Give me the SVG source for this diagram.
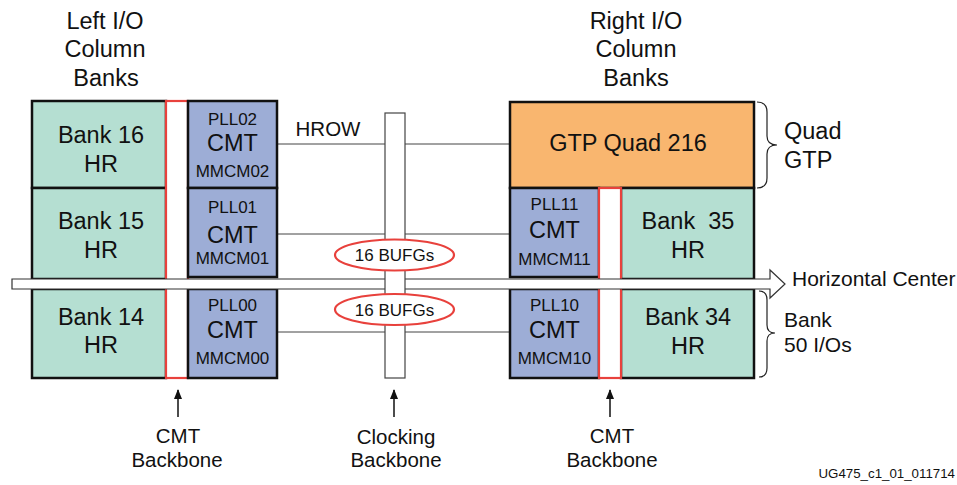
<svg xmlns="http://www.w3.org/2000/svg" width="957" height="485" viewBox="0 0 957 485">
<defs>
<style>
text{font-family:"Liberation Sans",Arial,sans-serif;fill:#111;text-anchor:middle}
.big{font-size:23.5px}
.sm{font-size:17px}
.lab{font-size:20.5px}
.bank{fill:#b5dfd2;stroke:#111;stroke-width:2.5}
.cmt{fill:#9dadd6;stroke:#111;stroke-width:2.5}
.gtp{fill:#f9b66f;stroke:#111;stroke-width:2.5}
.bb{fill:#fff;stroke:#e8413c;stroke-width:2.2}
.wire{stroke:#444;stroke-width:1;fill:none}
.brace{stroke:#222;stroke-width:1.2;fill:none}
</style>
<marker id="ah" markerWidth="10" markerHeight="10" refX="9" refY="4" orient="auto" markerUnits="userSpaceOnUse">
<path d="M0,0 L10,4 L0,8 Z" fill="#111"/>
</marker>
</defs>
<rect width="957" height="485" fill="#fff"/>

<g id="title-left">
<text class="big" x="105" y="29">Left I/O</text>
<text class="big" x="105" y="57">Column</text>
<text class="big" x="106" y="86">Banks</text>
</g>
<g id="title-right">
<text class="big" x="636" y="29">Right I/O</text>
<text class="big" x="636" y="57">Column</text>
<text class="big" x="636" y="86">Banks</text>
</g>

<g id="connectors">
<line class="wire" x1="277" y1="144" x2="510" y2="144"/>
<line class="wire" x1="277" y1="234" x2="510" y2="234"/>
<line class="wire" x1="277" y1="332" x2="510" y2="332"/>
<line x1="178" y1="417" x2="178" y2="390" stroke="#111" stroke-width="1.5" marker-end="url(#ah)"/>
<line x1="394" y1="417" x2="394" y2="390" stroke="#111" stroke-width="1.5" marker-end="url(#ah)"/>
<line x1="610" y1="417" x2="610" y2="390" stroke="#111" stroke-width="1.5" marker-end="url(#ah)"/>
</g>

<g id="bank16"><rect class="bank" x="32" y="101" width="134" height="87"/>
<text class="big" x="101" y="143">Bank 16</text><text class="big" x="101" y="172">HR</text></g>
<g id="bank15"><rect class="bank" x="32" y="188" width="134" height="91"/>
<text class="big" x="101" y="229">Bank 15</text><text class="big" x="101" y="258">HR</text></g>
<g id="bank14"><rect class="bank" x="32" y="289" width="134" height="89"/>
<text class="big" x="101" y="325">Bank 14</text><text class="big" x="101" y="353">HR</text></g>

<g id="cmt-backbone-left"><rect class="bb" x="166" y="101" width="22" height="277"/></g>

<g id="cmt02"><rect class="cmt" x="188" y="101" width="89" height="87"/>
<text class="sm" x="232.5" y="125">PLL02</text><text class="big" x="232.5" y="151">CMT</text><text class="sm" x="232.5" y="177">MMCM02</text></g>
<g id="cmt01"><rect class="cmt" x="188" y="188" width="89" height="89"/>
<text class="sm" x="232.5" y="213">PLL01</text><text class="big" x="232.5" y="243">CMT</text><text class="sm" x="232.5" y="264">MMCM01</text></g>
<g id="cmt00"><rect class="cmt" x="188" y="289" width="89" height="89"/>
<text class="sm" x="232.5" y="311">PLL00</text><text class="big" x="232.5" y="338">CMT</text><text class="sm" x="232.5" y="364">MMCM00</text></g>

<g id="gtp216"><rect class="gtp" x="510" y="102" width="244" height="86"/>
<text class="big" x="628" y="151">GTP Quad 216</text></g>
<g id="cmt11"><rect class="cmt" x="510" y="188" width="89" height="89"/>
<text class="sm" x="554.5" y="210">PLL11</text><text class="big" x="554.5" y="238">CMT</text><text class="sm" x="554.5" y="265">MMCM11</text></g>
<g id="cmt10"><rect class="cmt" x="510" y="289" width="89" height="89"/>
<text class="sm" x="554.5" y="311">PLL10</text><text class="big" x="554.5" y="338">CMT</text><text class="sm" x="554.5" y="364">MMCM10</text></g>
<g id="bank35"><rect class="bank" x="621" y="188" width="133" height="91"/>
<text class="big" x="688" y="229" xml:space="preserve">Bank  35</text><text class="big" x="688" y="258">HR</text></g>
<g id="bank34"><rect class="bank" x="621" y="289" width="133" height="89"/>
<text class="big" x="688" y="325">Bank 34</text><text class="big" x="688" y="354">HR</text></g>
<g id="cmt-backbone-right"><rect class="bb" x="599" y="188" width="22" height="190"/></g>

<g id="horizontal-center">
<path d="M12,279 L770,279 L770,270 L785,284 L770,298 L770,289 L12,289 Z" fill="#fff" stroke="#333" stroke-width="1.2"/>
<text x="792" y="286" style="font-size:21px;text-anchor:start">Horizontal Center</text>
</g>

<g id="clocking-backbone"><rect x="385" y="113" width="20" height="265" fill="#fff" stroke="#444" stroke-width="1.2"/></g>

<g id="hrow"><text class="lab" x="328" y="136">HROW</text></g>

<g id="bufg-top"><ellipse cx="394.5" cy="255" rx="59.5" ry="15.5" fill="#fff" stroke="#e8413c" stroke-width="2.2"/>
<text class="sm" x="394.5" y="261">16 BUFGs</text></g>
<g id="bufg-bottom"><ellipse cx="394.5" cy="309.5" rx="59.5" ry="15.5" fill="#fff" stroke="#e8413c" stroke-width="2.2"/>
<text class="sm" x="394.5" y="316">16 BUFGs</text></g>

<g id="brace-quad">
<path class="brace" d="M757,102 Q767,102 767,112 L767,136 Q767,145 777,145 Q767,145 767,154 L767,178 Q767,188 757,188"/>
<text class="big" x="784" y="139" style="text-anchor:start">Quad</text>
<text class="big" x="784" y="168" style="text-anchor:start">GTP</text>
</g>
<g id="brace-bank">
<path class="brace" d="M759,291 Q767,291 767,300 L767,325 Q767,333 775,333 Q767,333 767,341 L767,368 Q767,377 759,377"/>
<text x="784" y="327" style="font-size:21px;text-anchor:start">Bank</text>
<text x="784" y="352" style="font-size:21px;text-anchor:start">50 I/Os</text>
</g>

<g id="labels-bottom">
<text class="lab" x="178" y="443">CMT</text><text class="lab" x="177" y="467">Backbone</text>
<text class="lab" x="396" y="444">Clocking</text><text class="lab" x="396" y="467">Backbone</text>
<text class="lab" x="612" y="443">CMT</text><text class="lab" x="612" y="467">Backbone</text>
</g>
<text x="955" y="478" style="font-size:13.3px;text-anchor:end">UG475_c1_01_011714</text>
</svg>
